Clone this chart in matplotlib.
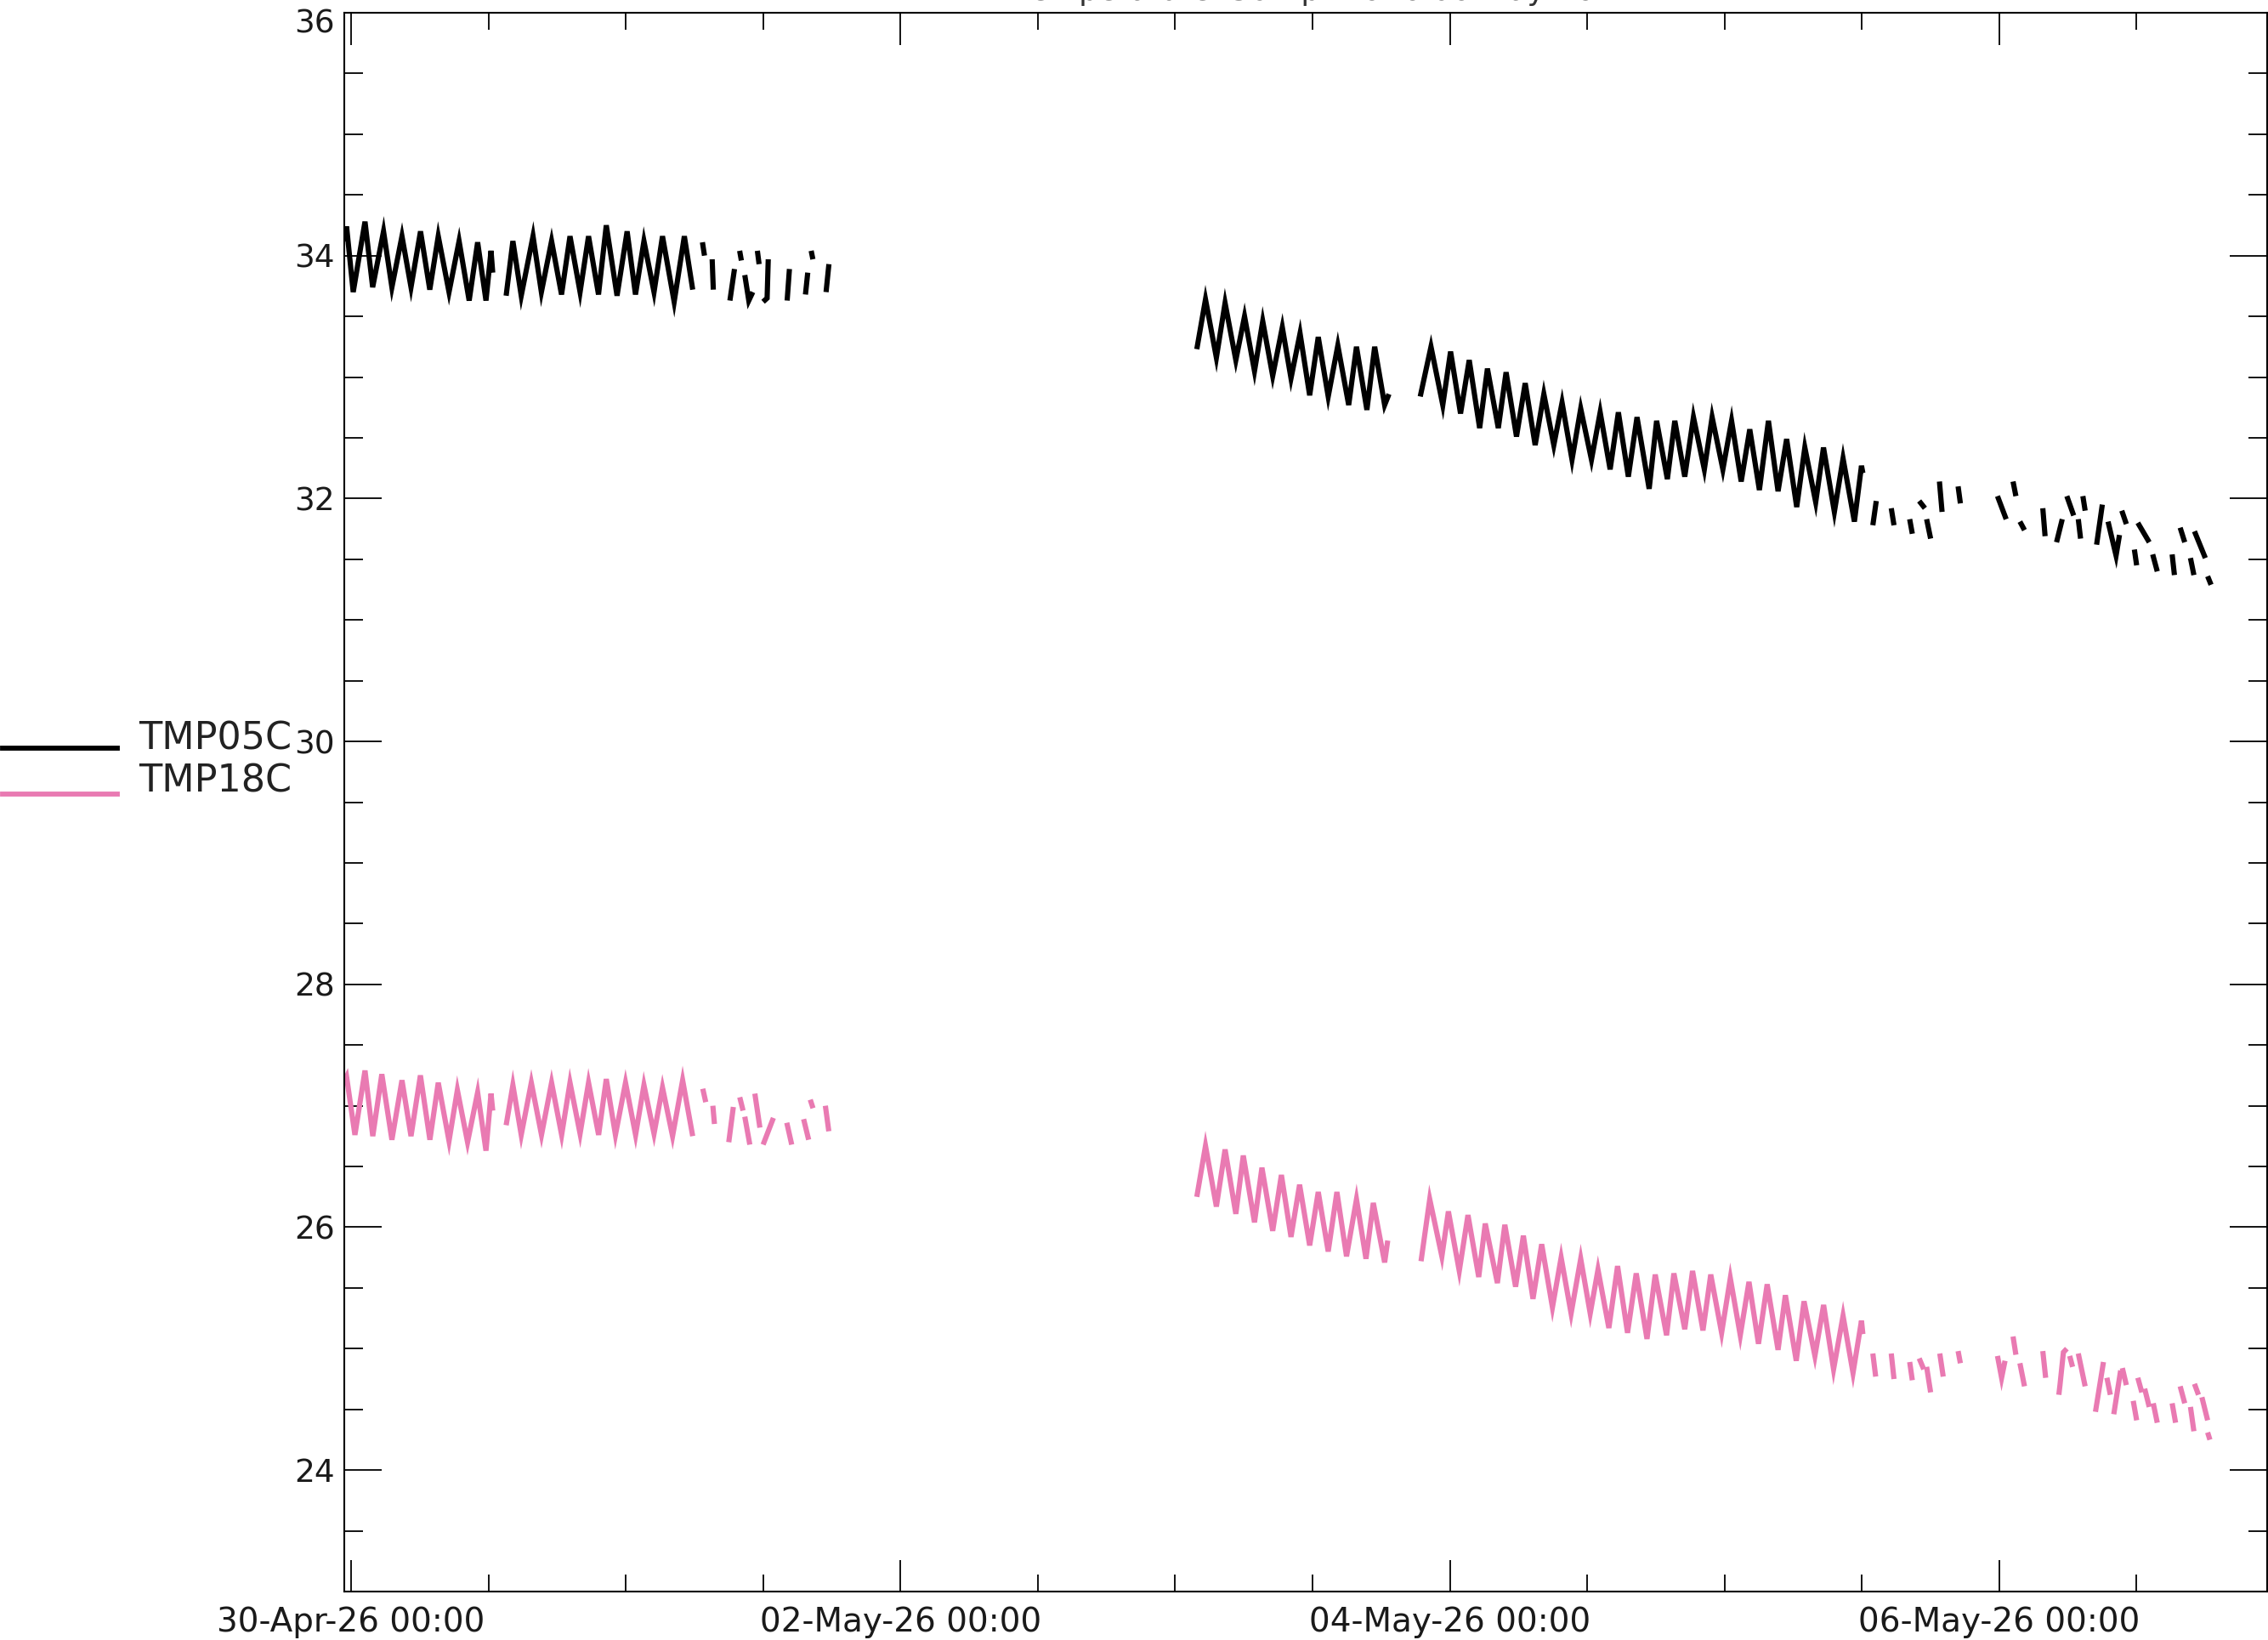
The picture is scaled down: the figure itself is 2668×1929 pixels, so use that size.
import numpy as np
import matplotlib
matplotlib.use('Agg')
import matplotlib.pyplot as plt
import matplotlib.dates as mdates
from matplotlib.ticker import FixedLocator, MultipleLocator, FormatStrFormatter
from matplotlib.lines import Line2D
from matplotlib.transforms import ScaledTranslation
import datetime as dt

nan = np.nan
base_time = dt.datetime(2026, 4, 30, 0, 0)

# ---- TMP05C (hours since 30-Apr-26 00:00, temperature) ----
tmp05_hours = [
    -0.6, -0.39, 0.19, 1.22, 1.89, 2.84, 3.57, 4.45, 5.24, 6.07, 6.88, 7.62, 8.56, 9.44, 10.32, 11.06, 11.79, 12.23, 12.38, nan,
    13.55, 14.14, 14.87, 15.90, 16.63, 17.52, 18.39, 19.13, 20.01, 20.75, 21.62, 22.30, 23.24, 24.12, 24.85, 25.59, 26.47, 27.21, 28.23, 29.12, 29.85, nan,
    30.70, 30.88, nan, 31.55, 31.65, nan, 33.10, 33.50, nan, 33.95, 34.10, nan, 34.40, 34.75, 35.10, nan,
    35.50, 35.65, nan, 36.00, 36.35, 36.45, nan, 38.10, 38.30, nan, 39.70, 39.90, nan, 40.20, 40.35, nan, 41.50, 41.75, nan,
    73.89, 74.65, 75.60, 76.36, 77.30, 78.06, 78.93, 79.65, 80.52, 81.36, 82.12, 82.91, 83.75, 84.50, 85.37, 86.21, 87.16, 87.84, 88.75, 89.43, 90.30, 90.68, nan,
    93.41, 94.35, 95.38, 96.06, 96.93, 97.69, 98.60, 99.28, 100.23, 100.91, 101.82, 102.58, 103.45, 104.21, 105.08, 105.80, 106.67, 107.43,
    108.37, 109.13, 110.00, 110.72, 111.59, 112.35, 113.41, 114.06, 115.00, 115.65, 116.52, 117.28, 118.23, 118.91, 119.85, 120.61, 121.45,
    122.20, 123.04, 123.83, 124.67, 125.42, 126.30, 127.01, 127.96, 128.64, 129.59, 130.35, 131.34, 131.96, 132.08, nan,
    132.95, 133.25, nan, 134.56, 134.80, nan, 136.17, 136.40, nan, 137.00, 137.50, nan, 137.65, 138.00, nan, 138.77, 139.00, nan,
    140.40, 140.60, nan, 143.84, 144.60, nan, 145.20, 145.45, nan, 145.80, 146.20, nan, 147.80, 148.00, nan, 149.00, 149.50, nan,
    149.90, 150.50, nan, 150.90, 151.10, nan, 151.30, 151.50, nan, 152.50, 153.00, nan, 153.50, 154.20, 154.50, nan,
    154.70, 155.10, nan, 155.80, 156.00, nan, 156.10, 157.10, nan, 157.40, 157.80, nan, 159.10, 159.30, nan,
    159.80, 160.20, nan, 160.70, 161.00, nan, 161.05, 162.00, nan, 162.20, 162.50,
]
tmp05_values = [
    34.12, 34.24, 33.70, 34.28, 33.74, 34.20, 33.74, 34.16, 33.74, 34.20, 33.72, 34.16, 33.70, 34.12, 33.63, 34.11, 33.63, 34.04, 33.86, nan,
    33.67, 34.12, 33.67, 34.16, 33.70, 34.12, 33.68, 34.16, 33.70, 34.16, 33.68, 34.25, 33.67, 34.20, 33.68, 34.12, 33.70, 34.16, 33.62, 34.16, 33.72, nan,
    34.11, 34.00, nan, 33.97, 33.72, nan, 33.63, 33.89, nan, 34.04, 33.96, nan, 33.84, 33.63, 33.70, nan,
    34.04, 33.93, nan, 33.62, 33.65, 33.97, nan, 33.63, 33.89, nan, 33.68, 33.86, nan, 34.04, 33.97, nan, 33.70, 33.93, nan,
    33.23, 33.64, 33.16, 33.61, 33.14, 33.50, 33.05, 33.46, 33.01, 33.41, 32.99, 33.36, 32.85, 33.33, 32.84, 33.26, 32.77, 33.25, 32.73, 33.25, 32.77, 32.86, nan,
    32.84, 33.25, 32.77, 33.21, 32.70, 33.14, 32.58, 33.07, 32.58, 33.04, 32.51, 32.95, 32.44, 32.86, 32.44, 32.79, 32.32, 32.74,
    32.32, 32.71, 32.24, 32.71, 32.18, 32.67, 32.08, 32.64, 32.16, 32.64, 32.18, 32.67, 32.24, 32.67, 32.24, 32.64, 32.14,
    32.57, 32.07, 32.64, 32.06, 32.49, 31.93, 32.42, 31.97, 32.42, 31.89, 32.33, 31.81, 32.27, 32.21, nan,
    31.78, 31.98, nan, 31.92, 31.78, nan, 31.83, 31.71, nan, 31.98, 31.92, nan, 31.83, 31.67, nan, 32.14, 31.89, nan,
    32.10, 31.96, nan, 32.02, 31.83, nan, 32.14, 32.02, nan, 31.81, 31.74, nan, 31.92, 31.69, nan, 31.64, 31.83, nan,
    32.02, 31.86, nan, 31.83, 31.67, nan, 32.02, 31.90, nan, 31.62, 31.95, nan, 31.81, 31.53, 31.70, nan,
    31.90, 31.79, nan, 31.58, 31.45, nan, 31.80, 31.64, nan, 31.54, 31.40, nan, 31.54, 31.37, nan,
    31.76, 31.64, nan, 31.51, 31.37, nan, 31.73, 31.51, nan, 31.36, 31.29,
]

# ---- TMP18C ----
tmp18_hours = [
    -0.6, -0.39, 0.34, 1.22, 1.90, 2.69, 3.57, 4.45, 5.24, 6.06, 6.89, 7.62, 8.56, 9.29, 10.18, 11.06, 11.79, 12.23, 12.38, nan,
    13.55, 14.14, 14.87, 15.75, 16.64, 17.52, 18.40, 19.13, 20.01, 20.75, 21.63, 22.30, 23.10, 23.98, 24.86, 25.59, 26.47, 27.21, 28.09, 28.97, 29.85, nan,
    30.73, 30.99, nan, 31.61, 31.75, nan, 33.00, 33.40, nan, 33.96, 34.25, nan, 34.40, 34.84, nan, 35.28, 35.72, nan,
    36.00, 36.90, nan, 38.07, 38.50, nan, 39.54, 39.98, nan, 40.12, 40.36, nan, 41.44, 41.74, nan,
    73.89, 74.65, 75.60, 76.36, 77.30, 77.95, 78.93, 79.58, 80.52, 81.28, 82.12, 82.87, 83.75, 84.50, 85.37, 86.13, 86.97, 87.84, 88.67, 89.31, 90.30, 90.57, nan,
    93.48, 94.24, 95.30, 95.87, 96.82, 97.58, 98.52, 99.09, 100.15, 100.80, 101.74, 102.42, 103.26, 104.02, 104.96, 105.72, 106.59, 107.43,
    108.26, 108.94, 109.89, 110.65, 111.52, 112.28, 113.22, 113.94, 114.93, 115.57, 116.52, 117.20, 118.11, 118.79, 119.74, 120.50, 121.37,
    122.13, 122.96, 123.72, 124.67, 125.31, 126.26, 126.94, 127.89, 128.65, 129.52, 130.35, 131.22, 131.96, 132.08, nan,
    132.95, 133.20, nan, 134.56, 134.80, nan, 136.17, 136.40, nan, 137.00, 137.40, nan, 137.65, 138.00, nan, 138.80, 139.10, nan,
    140.40, 140.60, nan, 143.84, 144.20, 144.50, nan, 145.20, 145.45, nan, 145.80, 146.20, nan, 147.80, 148.05, nan,
    149.20, 149.30, 149.60, 149.90, nan, 150.15, 150.40, nan, 150.90, 151.50, nan, 152.40, 153.10, nan, 153.40, 153.70, nan,
    154.00, 154.60, nan, 154.75, 155.10, nan, 155.70, 156.00, nan, 156.10, 156.45, nan, 156.70, 157.10, nan, 157.45, 157.80, nan,
    159.10, 159.40, nan, 159.80, 160.20, nan, 160.70, 161.00, nan, 161.05, 161.40, nan, 161.70, 162.20, nan, 162.20, 162.40,
]
tmp18_values = [
    27.20, 27.24, 26.76, 27.29, 26.75, 27.26, 26.72, 27.21, 26.75, 27.25, 26.72, 27.19, 26.71, 27.13, 26.70, 27.11, 26.63, 27.10, 26.96, nan,
    26.84, 27.17, 26.76, 27.19, 26.76, 27.19, 26.76, 27.19, 26.77, 27.19, 26.76, 27.22, 26.76, 27.19, 26.76, 27.17, 26.77, 27.15, 26.75, 27.21, 26.75, nan,
    27.14, 27.03, nan, 27.00, 26.85, nan, 26.70, 26.99, nan, 27.07, 26.96, nan, 26.91, 26.68, nan, 27.10, 26.82, nan,
    26.68, 26.90, nan, 26.86, 26.68, nan, 26.89, 26.72, nan, 27.05, 26.98, nan, 27.00, 26.79, nan,
    26.25, 26.67, 26.17, 26.64, 26.11, 26.59, 26.04, 26.49, 25.97, 26.43, 25.92, 26.35, 25.85, 26.29, 25.80, 26.29, 25.76, 26.23, 25.74, 26.20, 25.71, 25.89, nan,
    25.72, 26.23, 25.76, 26.13, 25.64, 26.10, 25.59, 26.03, 25.54, 26.02, 25.51, 25.93, 25.41, 25.86, 25.34, 25.75, 25.29, 25.74,
    25.29, 25.65, 25.17, 25.68, 25.13, 25.62, 25.08, 25.61, 25.11, 25.62, 25.16, 25.64, 25.15, 25.61, 25.13, 25.58, 25.11,
    25.55, 25.04, 25.53, 24.99, 25.44, 24.90, 25.39, 24.94, 25.36, 24.83, 25.27, 24.80, 25.23, 25.12, nan,
    24.96, 24.77, nan, 24.96, 24.75, nan, 24.89, 24.74, nan, 24.92, 24.83, nan, 24.85, 24.64, nan, 24.96, 24.77, nan,
    24.98, 24.88, nan, 24.94, 24.76, 24.90, nan, 25.10, 24.95, nan, 24.88, 24.69, nan, 24.98, 24.76, nan,
    24.62, 24.70, 24.97, 25.00, nan, 24.94, 24.85, nan, 24.96, 24.69, nan, 24.48, 24.89, nan, 24.76, 24.62, nan,
    24.46, 24.82, nan, 24.84, 24.70, nan, 24.57, 24.41, nan, 24.76, 24.64, nan, 24.67, 24.52, nan, 24.55, 24.39, nan,
    24.55, 24.39, nan, 24.69, 24.55, nan, 24.52, 24.32, nan, 24.71, 24.62, nan, 24.60, 24.41, nan, 24.31, 24.25,
]

series_names = ['TMP05C', 'TMP18C']
series_colors = ['#000000', '#E97AB2']

xtick_dates = [dt.datetime(2026, 4, 30), dt.datetime(2026, 5, 2),
               dt.datetime(2026, 5, 4), dt.datetime(2026, 5, 6)]
ytick_values = [24, 26, 28, 30, 32, 34, 36]
x_range_hours = (-0.59, 167.4)
y_range = (23.0, 36.0)
title_text = 'Temperature  30-Apr-26 to 06-May-26'

# ---------------------------------------------------------------
W, H = 2668, 1929
fig = plt.figure(figsize=(W / 100, H / 100), dpi=100)
fig.patch.set_facecolor('white')
ax = fig.add_axes([405 / W, 57 / H, 2262 / W, 1857 / H])

base_num = mdates.date2num(base_time)
def to_x(hours):
    return base_num + np.asarray(hours, dtype=float) / 24.0

for hrs, vals, col in [(tmp05_hours, tmp05_values, series_colors[0]),
                       (tmp18_hours, tmp18_values, series_colors[1])]:
    ax.plot(to_x(hrs), vals, color=col, lw=4.4, solid_joinstyle='miter',
            solid_capstyle='butt')

ax.set_xlim(to_x(x_range_hours[0]), to_x(x_range_hours[1]))
ax.set_ylim(*y_range)

ax.xaxis.set_major_locator(FixedLocator(mdates.date2num(xtick_dates)))
ax.xaxis.set_minor_locator(mdates.HourLocator(byhour=[0, 12]))
ax.xaxis.set_major_formatter(mdates.DateFormatter('%d-%b-%y %H:%M'))
ax.yaxis.set_major_locator(FixedLocator(ytick_values))
ax.yaxis.set_minor_locator(MultipleLocator(0.5))
ax.yaxis.set_major_formatter(FormatStrFormatter('%d'))

ax.tick_params(axis='x', which='major', direction='in', length=27, width=1.3,
               top=True, bottom=True, labelsize=28, pad=12)
ax.tick_params(axis='x', which='minor', direction='in', length=14.5, width=1.3,
               top=True, bottom=True)
ax.tick_params(axis='y', which='major', direction='in', length=32, width=1.3,
               left=True, right=True, labelsize=27, pad=8)
ax.tick_params(axis='y', which='minor', direction='in', length=16, width=1.3,
               left=True, right=True)
for sp in ax.spines.values():
    sp.set_linewidth(1.5)

for lab in ax.get_xticklabels() + ax.get_yticklabels():
    lab.set_fontfamily('DejaVu Sans')
    lab.set_color('#1a1a1a')

# top label shifted down a little, as in the reference
ylabs = ax.get_yticklabels()
ylabs[-1].set_transform(ylabs[-1].get_transform() +
                        ScaledTranslation(0, -10 / 100, fig.dpi_scale_trans))

# legend at left, outside the axes
leg_y = [1 - 880 / H, 1 - 934 / H]
leg_text_y = [1 - 882 / H, 1 - 932 / H]
for name, col, ly, ty in zip(series_names, series_colors, leg_y, leg_text_y):
    fig.add_artist(Line2D([3 / W, 138 / W], [ly, ly], transform=fig.transFigure,
                          color=col, lw=4.2))
    fig.text(163 / W, ty, name, fontsize=32, va='baseline', ha='left',
             color='#222222', family='DejaVu Sans')

# title, almost entirely above the top of the image (as in the reference)
fig.text(1536 / W, 1.0, title_text, fontsize=26, ha='center',
         va='baseline', family='DejaVu Sans', color='#333333')

fig.savefig('out.png', dpi=100, facecolor='white')
